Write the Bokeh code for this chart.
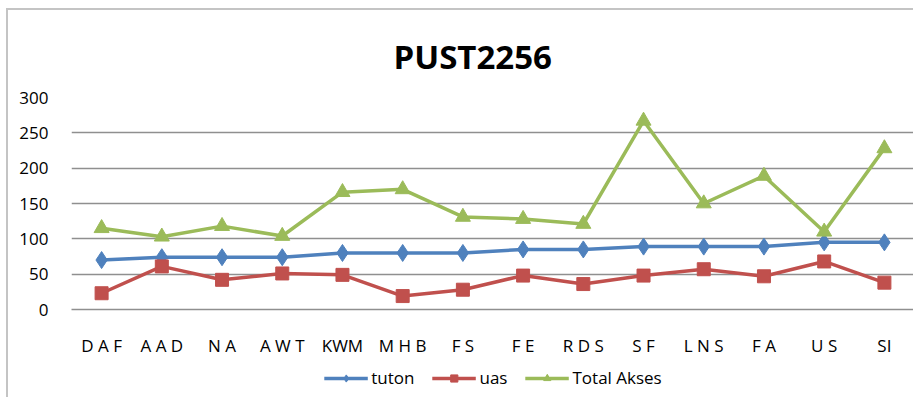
from bokeh.plotting import figure
from bokeh.layouts import column
from bokeh.models import Legend, LegendItem, FixedTicker, Title, Range1d
from bokeh.embed import file_html
from bokeh.resources import INLINE

categories = ["D A F", "A A D", "N A", "A W T", "KWM", "M H B", "F S",
              "F E", "R D S", "S F", "L N S", "F A", "U S", "SI"]
tuton = [70, 74, 74, 74, 80, 80, 80, 85, 85, 89, 89, 89, 95, 95]
uas = [23, 61, 42, 51, 49, 19, 28, 48, 36, 48, 57, 47, 68, 38]
total_akses = [115, 103, 118, 104, 166, 170, 131, 128, 121, 267, 150, 189, 110, 228]
y_ticks = [0, 50, 100, 150, 200, 250, 300]
series_names = ["tuton", "uas", "Total Akses"]

FONT = "Open Sans"
BLUE, RED, GREEN = "#4F81BD", "#C0504D", "#9BBB59"
BORDER = "2px solid #c4c4c4"

p = figure(x_range=categories, y_range=(0, 300),
           width=907, height=349,
           min_border_left=63, min_border_right=1,
           min_border_top=87, min_border_bottom=50,
           output_backend="svg", toolbar_location=None,
           tools="")
p.styles = {"margin-left": "6px", "margin-top": "8px",
            "border-left": BORDER, "border-top": BORDER}

p.title = Title(text="PUST2256", align="left", offset=322, text_font=FONT,
                text_font_size="33px", text_font_style="bold",
                text_color="#000000", standoff=37)

p.outline_line_color = None
p.xgrid.grid_line_color = None
p.ygrid.grid_line_color = "#8F8F8F"
p.ygrid.grid_line_width = 1.5
p.yaxis.ticker = FixedTicker(ticks=y_ticks)
p.yaxis.axis_line_color = None
p.yaxis.major_tick_line_color = None
p.yaxis.minor_tick_line_color = None
p.yaxis.major_label_standoff = 17
p.xaxis.axis_line_color = "#8F8F8F"
p.xaxis.axis_line_width = 1.5
p.xaxis.major_tick_line_color = None
p.xaxis.minor_tick_line_color = None
p.xaxis.major_label_standoff = 18
for ax in (p.xaxis, p.yaxis):
    ax.major_label_text_font = FONT
    ax.major_label_text_font_size = "17px"
    ax.major_label_text_color = "#000000"

styles = [(tuton, BLUE, "diamond", 17), (uas, RED, "square", 13),
          (total_akses, GREEN, "triangle", 15)]
for vals, col, mk, sz in styles:
    p.line(categories, vals, line_color=col, line_width=3.5)
    p.scatter(categories, vals, marker=mk, size=sz, fill_color=col, line_color=col)

# legend strip below the chart (its series lie outside its visible range)
q = figure(x_range=categories, y_range=Range1d(1000, 1001),
           width=907, height=40,
           min_border_left=30, min_border_right=0,
           min_border_top=0, min_border_bottom=0,
           x_axis_location=None, y_axis_location=None,
           output_backend="svg", toolbar_location=None, tools="")
q.styles = {"margin-left": "6px", "border-left": BORDER}
q.grid.grid_line_color = None
q.outline_line_color = None

items = []
for name, (vals, col, mk, sz) in zip(series_names, styles):
    rl = q.line(categories, vals, line_color=col, line_width=3.5)
    rm = q.scatter(categories, vals, marker=mk, size=sz, fill_color=col, line_color=col)
    items.append(LegendItem(label=name, renderers=[rl, rm]))

legend = Legend(items=items, orientation="horizontal", location="bottom_center",
                border_line_color=None, background_fill_alpha=0,
                padding=0, margin=8, spacing=17, label_standoff=4,
                glyph_width=44, glyph_height=18,
                label_text_font=FONT, label_text_font_size="17px",
                label_text_color="#000000")
q.add_layout(legend, "center")

layout = column(p, q, spacing=0)
open("out.html", "w").write(file_html(layout, INLINE))
